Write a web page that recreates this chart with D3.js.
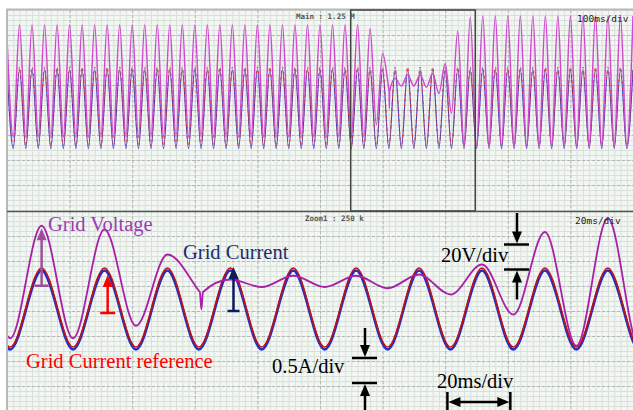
<!DOCTYPE html>
<html>

<head>
  <meta charset="utf-8">
  <script src="https://d3js.org/d3.v7.min.js"></script>
  <style>
    html,
    body {
      margin: 0;
      padding: 0;
      background: #fff;
    }
    svg {
      display: block;
    }
  </style>
</head>

<body>
  <div id="scope"></div>

  <script>
    // extrema every half period (10 ms), starting at t = 0
    var halfPeriod = 10;

    // grid voltage [V]
    var gridVoltage = [
      35, -45, 45, -45, 45, -45, 45, -45, 45, -45,
      45, -45, 45, -45, 45, -45, 45, -45, 45, -45,
      45, -45, 45, -45, 45, -45, 45, -45, 45, -45,
      45, -45, 45, -45, 45, -45, 45, -45, 45, -45,
      45, -45, 45, -45, 45, -45, 45, -45, 45, -45,
      45, -45, 45, -45, 45, -45, 45, -45, 42, -35,
      22, -7, 2, -4, 5, -4, 5, -5, 6, -10,
      14, -26, 40, -51, 51, -52, 52, -52, 52, -52,
      52, -52, 52, -52, 52, -52, 52, -52, 52, -52,
      52, -52, 52, -52, 52, -52, 52, -52, 52, -52,
      52
    ];

    // short glitch at the start of the sag
    var spikeTimes = [610.3, 610.8, 611.3];
    var spikeValues = [-8, -22, -8];

    // grid current reference [A]
    var currentRef = [
      0.82, -0.76, 0.82, -0.76, 0.82, -0.76, 0.82, -0.76, 0.82, -0.76,
      0.82, -0.76, 0.82, -0.76, 0.82, -0.76, 0.82, -0.76, 0.82, -0.76,
      0.82, -0.76, 0.82, -0.76, 0.82, -0.76, 0.82, -0.76, 0.82, -0.76,
      0.82, -0.76, 0.82, -0.76, 0.82, -0.76, 0.82, -0.76, 0.82, -0.76,
      0.82, -0.76, 0.82, -0.76, 0.82, -0.76, 0.82, -0.76, 0.82, -0.76,
      0.82, -0.76, 0.82, -0.76, 0.82, -0.76, 0.82, -0.76, 0.82, -0.76,
      0.82, -0.76, 0.82, -0.76, 0.82, -0.76, 0.82, -0.76, 0.82, -0.76,
      0.82, -0.76, 0.82, -0.76, 0.82, -0.76, 0.82, -0.76, 0.82, -0.76,
      0.82, -0.76, 0.82, -0.76, 0.82, -0.76, 0.82, -0.76, 0.82, -0.76,
      0.82, -0.76, 0.82, -0.76, 0.82, -0.76, 0.82, -0.76, 0.82, -0.76,
      0.82
    ];

    // measured grid current [A]
    var currentMeas = [
      0.77, -0.81, 0.77, -0.81, 0.77, -0.81, 0.77, -0.81, 0.77, -0.81,
      0.77, -0.81, 0.77, -0.81, 0.77, -0.81, 0.77, -0.81, 0.77, -0.81,
      0.77, -0.81, 0.77, -0.81, 0.77, -0.81, 0.77, -0.81, 0.77, -0.81,
      0.77, -0.81, 0.77, -0.81, 0.77, -0.81, 0.77, -0.81, 0.77, -0.81,
      0.77, -0.81, 0.77, -0.81, 0.77, -0.81, 0.77, -0.81, 0.77, -0.81,
      0.77, -0.81, 0.77, -0.81, 0.77, -0.81, 0.77, -0.81, 0.77, -0.81,
      0.77, -0.81, 0.77, -0.81, 0.77, -0.81, 0.77, -0.81, 0.77, -0.81,
      0.77, -0.81, 0.77, -0.81, 0.77, -0.81, 0.77, -0.81, 0.77, -0.81,
      0.77, -0.81, 0.77, -0.81, 0.77, -0.81, 0.77, -0.81, 0.77, -0.81,
      0.77, -0.81, 0.77, -0.81, 0.77, -0.81, 0.77, -0.81, 0.77, -0.81,
      0.77
    ];

    // time windows [ms]
    var mainWindow = [0, 1000];
    var zoomWindow = [549, 748];

    var width = 633;
    var height = 410;
    var left = 7;
    var panelH = 201;
    var mainTop = 10;
    var zoomTop = 211;

    var svg = d3.select("#scope")
      .append("svg")
      .attr("width", width)
      .attr("height", height);

    var defs = svg.append("defs");

    // build [t, value] pairs
    function toPoints(values, extraT, extraV) {
      var pts = values.map((v, i) => [i * halfPeriod, v]);
      if (extraT) {
        extraT.forEach((t, i) => pts.push([t, extraV[i]]));
        pts.sort((a, b) => a[0] - b[0]);
      }
      return pts;
    }

    var voltPts = toPoints(gridVoltage, spikeTimes, spikeValues);
    var refPts = toPoints(currentRef);
    var measPts = toPoints(currentMeas);

    function drawPanel(yTop, domain, id, big) {
      var g = svg.append("g");

      // background
      g.append("rect")
        .attr("x", left)
        .attr("y", yTop)
        .attr("width", width - left)
        .attr("height", panelH)
        .attr("fill", "#f3f7f3");

      // grid: 10 x 8 divisions
      var gx = d3.scaleLinear().domain([0, 10]).range([left, left + 626]);
      var gy = d3.scaleLinear().domain([0, 8]).range([yTop, yTop + 200]);

      g.selectAll(".vminor")
        .data(d3.range(0, 101).map(i => i / 10))
        .join("line")
        .attr("x1", d => gx(d) + 0.5)
        .attr("x2", d => gx(d) + 0.5)
        .attr("y1", yTop)
        .attr("y2", yTop + panelH)
        .attr("stroke", "#d9dfd9")
        .attr("stroke-width", 1);

      g.selectAll(".hminor")
        .data(d3.range(0, 41).map(i => i / 5))
        .join("line")
        .attr("x1", left)
        .attr("x2", width)
        .attr("y1", d => gy(d) + 0.5)
        .attr("y2", d => gy(d) + 0.5)
        .attr("stroke", "#d9dfd9")
        .attr("stroke-width", 1);

      g.selectAll(".vmajor")
        .data(d3.range(1, 10))
        .join("line")
        .attr("x1", d => gx(d) + 0.5)
        .attr("x2", d => gx(d) + 0.5)
        .attr("y1", yTop)
        .attr("y2", yTop + panelH)
        .attr("stroke", "#b4b8b4")
        .attr("stroke-dasharray", "3 2");

      g.selectAll(".hmajor")
        .data(d3.range(1, 8))
        .join("line")
        .attr("x1", left)
        .attr("x2", width)
        .attr("y1", d => gy(d) + 0.5)
        .attr("y2", d => gy(d) + 0.5)
        .attr("stroke", "#b4b8b4")
        .attr("stroke-dasharray", "3 2");

      // scales: 20 V/div and 0.5 A/div, 25 px per division
      var x = d3.scaleLinear().domain(domain).range([left, width]);
      var yI = d3.scaleLinear().domain([-(panelH - 98) / 50, 98 / 50]).range([yTop + panelH, yTop]);
      var yV = d3.scaleLinear().domain([-(panelH - 71) * 0.8, 71 * 0.8]).range([yTop + panelH, yTop]);

      defs.append("clipPath")
        .attr("id", id)
        .append("rect")
        .attr("x", left)
        .attr("y", yTop)
        .attr("width", width - left)
        .attr("height", panelH);

      var traces = g.append("g").attr("clip-path", "url(#" + id + ")");

      var lineI = d3.line()
        .x(d => x(d[0]))
        .y(d => yI(d[1]))
        .curve(d3.curveMonotoneX);

      var lineV = d3.line()
        .x(d => x(d[0]))
        .y(d => yV(d[1]))
        .curve(d3.curveMonotoneX);

      traces.append("path")
        .datum(measPts)
        .attr("fill", "none")
        .attr("stroke", big ? "#1f2fc8" : "#3a3ad0")
        .attr("stroke-width", big ? 2.6 : 1.1)
        .attr("d", lineI);

      traces.append("path")
        .datum(refPts)
        .attr("fill", "none")
        .attr("stroke", big ? "#c41010" : "#d83a3a")
        .attr("stroke-width", big ? 1.6 : 1)
        .attr("stroke-dasharray", big ? null : "3 3")
        .attr("d", lineI);

      traces.append("path")
        .datum(voltPts)
        .attr("fill", "none")
        .attr("stroke", big ? "#a81fa8" : "#d04ad0")
        .attr("stroke-width", big ? 1.8 : 1.5)
        .attr("d", lineV);

      return { x: x, yI: yI, yV: yV };
    }

    var main = drawPanel(mainTop, mainWindow, "clip-main", false);
    var zoom = drawPanel(zoomTop, zoomWindow, "clip-zoom", true);

    // frame
    svg.append("line")
      .attr("x1", left - 1).attr("x2", width)
      .attr("y1", mainTop - 0.5).attr("y2", mainTop - 0.5)
      .attr("stroke", "#b8b8b8").attr("stroke-width", 2);
    svg.append("line")
      .attr("x1", left).attr("x2", left)
      .attr("y1", mainTop - 1).attr("y2", height)
      .attr("stroke", "#b8b8b8").attr("stroke-width", 2);
    svg.append("line")
      .attr("x1", left).attr("x2", width)
      .attr("y1", zoomTop + 0.5).attr("y2", zoomTop + 0.5)
      .attr("stroke", "#555").attr("stroke-width", 1.5);

    // zoom window box on the main trace
    svg.append("rect")
      .attr("x", main.x(zoomWindow[0]))
      .attr("y", mainTop)
      .attr("width", main.x(zoomWindow[1]) - main.x(zoomWindow[0]))
      .attr("height", panelH)
      .attr("fill", "none")
      .attr("stroke", "#444")
      .attr("stroke-width", 1.5);

    // scope labels
    function scopeText(x, y, txt, size, bold) {
      svg.append("text")
        .attr("x", x)
        .attr("y", y)
        .attr("font-family", "DejaVu Sans Mono")
        .attr("font-size", size)
        .attr("font-weight", bold ? "bold" : null)
        .attr("fill", bold ? "#555" : "#222")
        .text(txt);
    }
    scopeText(296, 19, "Main : 1.25 M", 7.5, true);
    scopeText(305, 220.5, "Zoom1 : 250 k", 7.5, true);
    scopeText(577, 22, "100ms/div", 9.5);
    scopeText(575, 224, "20ms/div", 9.5);

    // annotations
    function label(x, y, txt, color) {
      svg.append("text")
        .attr("x", x)
        .attr("y", y)
        .attr("font-family", "Liberation Serif")
        .attr("font-size", 20.5)
        .attr("fill", color)
        .text(txt);
    }

    // vertical arrow pointing up (tip at y2) or down
    function vArrow(x, yFrom, yTip, color, bar) {
      var dir = yTip < yFrom ? 1 : -1;
      svg.append("line")
        .attr("x1", x).attr("x2", x)
        .attr("y1", yFrom).attr("y2", yTip + dir * 8)
        .attr("stroke", color).attr("stroke-width", 2.5);
      svg.append("path")
        .attr("d", "M" + x + "," + yTip + "L" + (x - 5) + "," + (yTip + dir * 12) +
          "L" + (x + 5) + "," + (yTip + dir * 12) + "Z")
        .attr("fill", color);
      if (bar) {
        svg.append("line")
          .attr("x1", x - bar).attr("x2", x + bar)
          .attr("y1", yFrom).attr("y2", yFrom)
          .attr("stroke", color).attr("stroke-width", 2.5);
      }
    }

    // signal arrows (zero line up to peak)
    vArrow(zoom.x(560), zoom.yV(-3), zoom.yV(43), "#9a4f9a", 7);
    vArrow(zoom.x(581), zoom.yI(-0.08), zoom.yI(0.68), "#ff0000", 7.5);
    vArrow(zoom.x(621), zoom.yI(-0.04), zoom.yI(0.84), "#0c1c5c", 6);

    label(48, 231, "Grid Voltage", "#9a3cb4");
    label(183, 259, "Grid Current", "#1c2c6c");
    label(26, 368, "Grid Current reference", "#ff0000");

    // scale markers
    var tickLine = (x1, x2, y1, y2) => svg.append("line")
      .attr("x1", x1).attr("x2", x2).attr("y1", y1).attr("y2", y2)
      .attr("stroke", "#000").attr("stroke-width", 2.5);

    // 20 V/div
    var vx = 517;
    tickLine(vx - 13, vx + 12, zoom.yV(30), zoom.yV(30));
    tickLine(vx - 13, vx + 12, zoom.yV(10), zoom.yV(10));
    vArrow(vx, zoomTop + 2, zoom.yV(30) - 1, "#000");
    vArrow(vx, zoom.yV(10) + 30, zoom.yV(10) + 1, "#000");
    label(441, 262, "20V/div", "#000");

    // 0.5 A/div
    var ax = 365;
    tickLine(ax - 13, ax + 12, zoom.yI(-0.98), zoom.yI(-0.98));
    tickLine(ax - 13, ax + 12, zoom.yI(-1.48), zoom.yI(-1.48));
    vArrow(ax, zoom.yI(-0.98) - 30, zoom.yI(-0.98) - 1, "#000");
    vArrow(ax, height + 2, zoom.yI(-1.48) + 1, "#000");
    label(272, 373, "0.5A/div", "#000");

    // 20 ms/div
    var t1 = zoom.x(689), t2 = zoom.x(709), ay = 402;
    tickLine(t1, t1, 392, height);
    tickLine(t2, t2, 392, height);
    tickLine(t1 + 8, t2 - 8, ay, ay);
    svg.append("path")
      .attr("d", "M" + (t1 + 1) + "," + ay + "L" + (t1 + 13) + "," + (ay - 5) + "L" + (t1 + 13) + "," + (ay + 5) + "Z" +
        "M" + (t2 - 1) + "," + ay + "L" + (t2 - 13) + "," + (ay - 5) + "L" + (t2 - 13) + "," + (ay + 5) + "Z")
      .attr("fill", "#000");
    label(437, 388, "20ms/div", "#000");
  </script>
</body>

</html>
